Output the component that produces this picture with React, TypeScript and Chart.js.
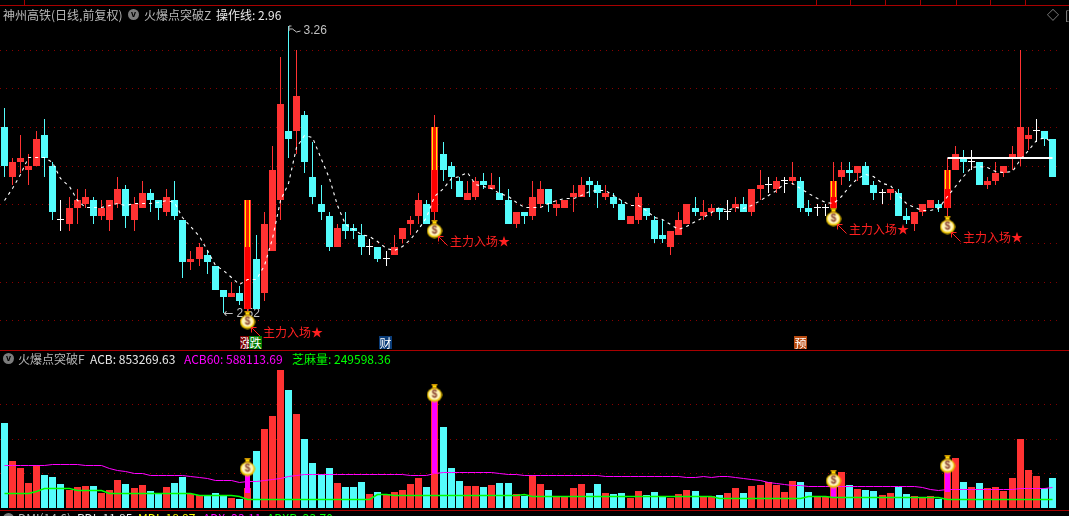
import React, { useEffect, useRef } from "react";
import { Chart, registerables } from "chart.js";

Chart.register(...registerables);

const HIGHS = [3.05,2.92,2.98,2.93,2.99,3.02,2.91,2.81,2.82,2.84,2.84,2.82,2.81,2.81,2.87,2.85,2.82,2.86,2.84,2.81,2.84,2.86,2.76,2.68,2.70,2.68,2.64,2.58,2.60,2.59,2.81,2.72,2.78,2.95,3.18,3.26,3.20,3.04,2.96,2.85,2.78,2.75,2.78,2.75,2.75,2.71,2.69,2.68,2.72,2.74,2.77,2.83,2.81,3.03,2.96,2.91,2.87,2.86,2.87,2.88,2.88,2.87,2.84,2.78,2.78,2.86,2.86,2.84,2.81,2.81,2.85,2.87,2.87,2.86,2.85,2.83,2.81,2.77,2.83,2.79,2.77,2.76,2.73,2.78,2.80,2.82,2.81,2.80,2.79,2.81,2.82,2.82,2.84,2.89,2.87,2.87,2.87,2.91,2.87,2.81,2.80,2.80,2.91,2.91,2.91,2.90,2.91,2.86,2.84,2.84,2.84,2.79,2.78,2.80,2.81,2.81,2.92,2.95,2.94,2.94,2.91,2.87,2.91,2.90,2.95,3.20,3.00,3.02,2.99,2.97];
const LOWS = [2.87,2.85,2.88,2.85,2.90,2.87,2.76,2.73,2.73,2.75,2.79,2.75,2.76,2.73,2.79,2.74,2.73,2.79,2.78,2.76,2.77,2.76,2.61,2.63,2.64,2.62,2.58,2.52,2.56,2.54,2.52,2.53,2.55,2.68,2.76,2.92,2.93,2.88,2.80,2.76,2.68,2.69,2.71,2.71,2.67,2.67,2.65,2.64,2.67,2.70,2.72,2.75,2.75,2.76,2.86,2.84,2.82,2.81,2.81,2.84,2.84,2.81,2.75,2.74,2.75,2.76,2.79,2.78,2.77,2.79,2.78,2.82,2.82,2.79,2.81,2.79,2.76,2.75,2.75,2.76,2.70,2.70,2.67,2.72,2.75,2.77,2.76,2.77,2.76,2.76,2.78,2.78,2.77,2.81,2.83,2.83,2.83,2.85,2.78,2.77,2.77,2.77,2.78,2.85,2.86,2.86,2.85,2.81,2.80,2.81,2.77,2.75,2.73,2.77,2.79,2.78,2.77,2.89,2.88,2.89,2.85,2.84,2.85,2.87,2.89,2.90,2.94,2.96,2.95,2.87];
const OPENS = [3.00,2.87,2.91,2.89,2.90,2.98,2.90,2.76,2.75,2.79,2.80,2.81,2.77,2.76,2.80,2.84,2.76,2.79,2.83,2.81,2.78,2.81,2.76,2.65,2.66,2.67,2.64,2.58,2.56,2.57,2.53,2.66,2.57,2.68,2.81,2.99,2.99,3.03,2.87,2.80,2.77,2.69,2.75,2.74,2.72,2.69,2.69,2.66,2.67,2.71,2.75,2.77,2.80,2.78,2.93,2.90,2.86,2.81,2.82,2.86,2.84,2.83,2.81,2.75,2.78,2.77,2.80,2.84,2.79,2.79,2.82,2.82,2.86,2.85,2.82,2.82,2.80,2.75,2.76,2.79,2.76,2.72,2.69,2.72,2.75,2.79,2.77,2.78,2.79,2.78,2.79,2.80,2.78,2.84,2.85,2.84,2.86,2.86,2.86,2.79,2.79,2.79,2.79,2.87,2.89,2.88,2.90,2.85,2.83,2.83,2.83,2.77,2.75,2.78,2.79,2.80,2.79,2.89,2.92,2.91,2.91,2.85,2.86,2.88,2.92,2.92,2.97,2.99,2.99,2.97];
const CLOSES = [2.90,2.91,2.92,2.90,2.97,2.92,2.78,2.76,2.79,2.81,2.82,2.77,2.79,2.81,2.84,2.77,2.80,2.83,2.81,2.79,2.82,2.77,2.65,2.66,2.69,2.65,2.58,2.56,2.57,2.55,2.81,2.53,2.75,2.89,3.06,2.97,3.08,2.91,2.82,2.78,2.69,2.74,2.73,2.73,2.69,2.69,2.66,2.66,2.69,2.74,2.76,2.81,2.75,3.00,2.89,2.87,2.82,2.83,2.86,2.85,2.85,2.81,2.75,2.78,2.77,2.82,2.84,2.80,2.80,2.81,2.83,2.85,2.85,2.83,2.83,2.80,2.76,2.77,2.82,2.77,2.71,2.71,2.73,2.76,2.80,2.78,2.78,2.79,2.78,2.78,2.80,2.78,2.84,2.85,2.85,2.86,2.86,2.87,2.79,2.78,2.79,2.79,2.86,2.89,2.88,2.90,2.85,2.83,2.83,2.84,2.77,2.76,2.78,2.80,2.81,2.79,2.89,2.93,2.91,2.91,2.85,2.86,2.88,2.90,2.93,3.00,2.98,2.99,2.97,2.87];
const VOLUMES = [246.5,136.3,116,72.5,124.7,95.7,89.9,69.6,52.2,60.9,63.8,63.8,43.5,52.2,81.2,69.6,58,66.7,49.3,43.5,60.9,72.5,89.9,40.6,37.7,37.7,43.5,34.8,29,26.1,58,165.3,229.1,266.8,400.2,342.2,272.6,200.1,130.5,98.6,116,72.5,60.9,60.9,75.4,40.6,46.4,40.6,46.4,52.2,69.6,87,60.9,313.2,234.9,116,78.3,63.8,63.8,60.9,66.7,72.5,72.5,40.6,34.8,95.7,69.6,52.2,34.8,34.8,58,69.6,43.5,69.6,43.5,40.6,43.5,29,49.3,37.7,46.4,31.9,29,40.6,52.2,49.3,34.8,34.8,37.7,43.5,58,43.5,63.8,66.7,75.4,66.7,46.4,78.3,75.4,46.4,31.9,31.9,60.9,104.4,66.7,55.1,52.2,49.3,37.7,43.5,60.9,40.6,34.8,31.9,34.8,26.1,110.2,145,75.4,60.9,72.5,58,60.9,49.3,87,200.1,110.2,92.8,58,85.3];
const OPERATE_LINE = [2.809,2.842,2.876,2.920,2.922,2.922,2.907,2.868,2.845,2.811,2.793,2.793,2.793,2.798,2.803,2.796,2.803,2.803,2.803,2.806,2.811,2.806,2.767,2.742,2.716,2.682,2.641,2.630,2.610,2.592,2.605,2.605,2.643,2.713,2.811,2.855,2.948,2.979,2.972,2.915,2.868,2.798,2.747,2.734,2.721,2.716,2.703,2.687,2.680,2.690,2.708,2.734,2.767,2.819,2.842,2.868,2.871,2.881,2.850,2.845,2.842,2.829,2.819,2.806,2.791,2.791,2.793,2.803,2.811,2.814,2.816,2.822,2.832,2.835,2.837,2.824,2.811,2.798,2.796,2.785,2.765,2.760,2.747,2.736,2.742,2.755,2.767,2.780,2.791,2.785,2.791,2.788,2.798,2.811,2.824,2.837,2.853,2.855,2.842,2.829,2.816,2.806,2.803,2.819,2.845,2.868,2.876,2.871,2.855,2.848,2.824,2.803,2.793,2.785,2.785,2.788,2.819,2.845,2.871,2.894,2.897,2.894,2.884,2.881,2.884,2.915,2.940,2.966,2.972,2.960];
const ACB60 = [121.8,121.8,121.8,121.8,121.8,121.8,126.7,126.7,126.7,126.7,123.8,123.8,123.8,113.1,107.3,104.4,100.6,98.6,94.8,93.7,93.7,93.7,93.7,91.9,89,86.1,80.3,80.3,78.3,74.5,77.4,77.4,80.3,83.2,86.1,91.9,94.8,97.7,97.7,97.7,97.7,97.7,97.7,97.7,97.7,97.7,97.7,97.7,97.7,97.7,94.8,94.8,94.8,100.6,103.5,103.5,103.5,103.5,103.5,103.5,103.5,100.6,97.7,97.7,94.8,94.8,94.8,94.8,94.8,94.8,94.8,94.8,94.8,94.8,91.9,91.9,91.9,91.9,91.9,91.9,91.9,91.9,91.9,91.9,89,89,91.9,89,91.9,91.9,89,86.1,83.2,80.3,74.5,71.6,68.7,65.8,65.8,62.9,62.9,62.9,62.9,62.9,62.9,62.9,62.9,62.9,62.9,62.9,62.9,62.9,62.9,58.9,54.2,51.3,54.2,54.2,54.2,54.2,54.2,54.2,54.2,54.2,54.2,57.1,57.1,57.1,57.1,58.8];
const SESAME = [42.6,42.6,42.6,42.6,48.4,57.1,57.1,57.1,57.1,51.3,51.3,51.3,51.3,42.6,42.6,42.6,42.6,42.6,42.6,42.6,42.6,42.6,42.6,42.6,36.8,36.8,36.8,36.8,36.8,32.8,25.2,25.2,25.2,25.2,25.2,25.2,25.2,25.2,25.2,25.2,25.2,25.2,25.2,25.2,25.2,25.2,39.7,39.7,36.8,36.8,36.8,36.8,36.8,36.8,36.8,36.8,36.8,36.8,36.8,36.8,36.8,36.8,36.8,36.8,39.7,33.9,33.9,33.9,33.9,33.9,33.9,33.9,33.9,33.9,33.9,33.9,33.9,33.9,33.9,33.9,33.9,33.9,33.9,33.9,33.9,33.9,33.9,33.9,28.1,28.1,28.1,28.1,28.1,28.1,28.1,28.1,28.1,28.1,28.1,33.9,33.9,33.9,31,31,31,31,31,31,31,31,31,31,31,31,31,31,25,25,25,25,25,25,25,25,25,25,25,25,25,25];

const SIGNAL_INDEX = [30, 53, 102, 116];
const SIGNAL_STRIPE_END = [2.69, 2.89, 2.82, 2.84];
const SIGNAL_PRICE_BAG = [2.5, 2.736, 2.767, 2.747];
const SIGNAL_LABEL_PRICE = [2.47, 2.705, 2.736, 2.716];
const SIGNAL_VOLUME_TOP = [104.4, 313.2, 60.9, 110.2];
const SIGNAL_VOLUME_END = [43.5, 101.5, 31.9, 46.4];
const SIGNAL_VOLUME_BAG = [119, 333.5, 84, 127.6];
const SUPPORT_FROM = 116;
const SUPPORT_PRICE = 2.92;
const PEAK_INDEX = 35;
const PEAK_TEXT = "3.26";
const LOW_INDEX = 27;
const LOW_TEXT = "2.52";
const SIGNAL_TEXT = "主力入场★";
const PRICE_GRID = [3.2, 3.1, 3.0, 2.9, 2.8, 2.7, 2.6, 2.5];
const VOLUME_GRID = [100, 200, 300];
const CATEGORIES = HIGHS.map((_, i) => String(i + 1));

const RED = "#ff3232";
const CYAN = "#54fcfc";
const WHITE = "#ffffff";
const GRID_RED = "#8a0000";
const CJK = '"Noto Sans CJK SC","Liberation Sans",sans-serif';
const P_MIN = 1.9949, P_MAX = 3.3279, V_MIN = -23.8, V_MAX = 1472.6;

function sparse<T>(idx: number[], vals: T[]): (T | null)[] {
  return CATEGORIES.map((_, i) => {
    const k = idx.indexOf(i);
    return k < 0 ? null : vals[k];
  });
}

function snapper(fn: (v: number) => number) {
  return (scale: any) => {
    if (scale.__snap) return;
    scale.__snap = true;
    const orig = scale.getPixelForValue.bind(scale);
    scale.getPixelForValue = (...a: any[]) => fn(orig(...a));
  };
}

function makeBag() {
  const c = document.createElement("canvas");
  c.width = 16;
  c.height = 19;
  const g = c.getContext("2d")!;
  g.fillStyle = "#c89000";
  g.fillRect(5, 0, 6, 2);
  g.fillStyle = "#ffd800";
  g.fillRect(6, 2, 4, 2);
  g.fillStyle = "#8a4a10";
  g.fillRect(5, 4, 6, 1);
  g.beginPath();
  g.ellipse(8, 11.5, 7.5, 7, 0, 0, Math.PI * 2);
  g.fillStyle = "#e8c000";
  g.fill();
  g.beginPath();
  g.ellipse(8, 11, 6, 5.6, 0, 0, Math.PI * 2);
  g.fillStyle = "#fff4b8";
  g.fill();
  g.fillStyle = "#8a4030";
  g.font = "bold 10px 'Liberation Sans'";
  g.textAlign = "center";
  g.textBaseline = "middle";
  g.fillText("$", 8, 11.5);
  return c;
}

const framePlugin = {
  id: "frame",
  beforeDraw(chart: any) {
    const { ctx, width, height } = chart;
    ctx.save();
    ctx.fillStyle = "#000";
    ctx.fillRect(0, 0, width, height);
    ctx.fillStyle = "#a80000";
    ctx.fillRect(0, 5, width, 1);
    ctx.fillRect(0, 350, width, 1);
    ctx.fillRect(0, 510, width, 1);
    [24, 816, 850, 885, 920, 956, 990, 1025].forEach((x) => ctx.fillRect(x, 0, 1, 5));
    ctx.restore();
  },
  beforeDatasetsDraw(chart: any) {
    const { ctx, scales } = chart;
    const x = scales.x.getPixelForValue(LOW_INDEX);
    const y = scales.y.getPixelForValue(LOWS[LOW_INDEX]);
    ctx.save();
    ctx.fillStyle = "#c0c0c0";
    ctx.textBaseline = "middle";
    ctx.font = "12px 'DejaVu Sans'";
    ctx.fillText("←", x, y + 1);
    ctx.font = "12px 'Liberation Sans'";
    ctx.fillText(LOW_TEXT, x + 13, y + 1);
    ctx.restore();
  },
  afterDatasetsDraw(chart: any) {
    const { ctx, scales } = chart;
    ctx.save();
    ctx.textBaseline = "middle";
    const px = scales.x.getPixelForValue(PEAK_INDEX);
    const py = scales.y.getPixelForValue(HIGHS[PEAK_INDEX]);
    ctx.strokeStyle = "#c0c0c0";
    ctx.lineWidth = 1;
    ctx.beginPath();
    ctx.moveTo(px + 0.5, py + 5);
    ctx.lineTo(px + 0.5, py);
    ctx.lineTo(px + 3, py);
    ctx.moveTo(px + 1, py + 3);
    ctx.lineTo(px + 4, py + 3);
    ctx.lineTo(px + 8, py + 6);
    ctx.lineTo(px + 12, py + 5);
    ctx.stroke();
    ctx.fillStyle = "#c0c0c0";
    ctx.font = "12px 'Liberation Sans'";
    ctx.fillText(PEAK_TEXT, px + 15, py + 5);
    SIGNAL_INDEX.forEach((idx, k) => {
      const x = scales.x.getPixelForValue(idx);
      const y = scales.y.getPixelForValue(SIGNAL_LABEL_PRICE[k]);
      ctx.strokeStyle = "#ff2020";
      ctx.beginPath();
      ctx.moveTo(x + 13, y + 4.5);
      ctx.lineTo(x + 4, y - 4.5);
      ctx.moveTo(x + 9, y - 4.5);
      ctx.lineTo(x + 4, y - 4.5);
      ctx.lineTo(x + 4, y + 0.5);
      ctx.stroke();
      ctx.fillStyle = "#ff2020";
      ctx.font = '12px "Noto Sans CJK SC"';
      ctx.fillText(SIGNAL_TEXT, x + 15.5, y);
    });
    ctx.restore();
  },
};

const abs = (left: number, top: number, color: string, extra: any = {}) => ({
  position: "absolute" as const,
  left,
  top,
  color,
  font: `12px/14px ${CJK}`,
  whiteSpace: "pre" as const,
  ...extra,
});

function Dot({ left, top }: { left: number; top: number }) {
  return (
    <div style={{ position: "absolute", left, top, width: 11, height: 11, borderRadius: 6, background: "#7c7c7c", color: "#000", font: "bold 9px/10px 'Liberation Sans'", textAlign: "center" }}>v</div>
  );
}

export default function App() {
  const ref = useRef<HTMLCanvasElement | null>(null);

  useEffect(() => {
    const candleColor = CATEGORIES.map((_, i) => (CLOSES[i] > OPENS[i] ? RED : CLOSES[i] < OPENS[i] ? CYAN : WHITE));
    const bodies = CATEGORIES.map((_, i) => (OPENS[i] === CLOSES[i] ? [OPENS[i], OPENS[i] + 0.0026] : [OPENS[i], CLOSES[i]]));
    const wicks = CATEGORIES.map((_, i) => [LOWS[i], HIGHS[i]]);
    const volColor = CATEGORIES.map((_, i) => {
      if (CLOSES[i] > OPENS[i]) return RED;
      if (CLOSES[i] < OPENS[i]) return CYAN;
      return i > 0 && CLOSES[i] < CLOSES[i - 1] ? CYAN : RED;
    });
    const signalCloses = SIGNAL_INDEX.map((i) => CLOSES[i]);
    const signalOpens = SIGNAL_INDEX.map((i) => OPENS[i]);
    const stripes = sparse(SIGNAL_INDEX, SIGNAL_INDEX.map((_, k) => [SIGNAL_STRIPE_END[k], signalCloses[k]]));
    const lowerBodies = sparse(SIGNAL_INDEX, SIGNAL_INDEX.map((_, k) => [signalOpens[k], SIGNAL_STRIPE_END[k]]));
    const magentaBars = sparse(SIGNAL_INDEX, SIGNAL_INDEX.map((_, k) => [SIGNAL_VOLUME_END[k], SIGNAL_VOLUME_TOP[k]]));
    const barBase = { type: "bar" as const, grouped: false, barPercentage: 1, categoryPercentage: 1, inflateAmount: 0, borderWidth: 0 };
    const lineBase = { type: "line" as const, pointRadius: 0, borderWidth: 1, tension: 0, spanGaps: false, fill: false };
    const bag = makeBag();
    const bagBase = { type: "line" as const, showLine: false, pointStyle: bag as any, pointRadius: 8, spanGaps: false, order: 1 };

    const chart = new Chart(ref.current!, {
      data: {
        labels: CATEGORIES,
        datasets: [
          { ...bagBase, label: "bagPrice", yAxisID: "y", data: sparse(SIGNAL_INDEX, SIGNAL_PRICE_BAG) },
          { ...bagBase, label: "bagVolume", yAxisID: "yv", data: sparse(SIGNAL_INDEX, SIGNAL_VOLUME_BAG) },
          { ...lineBase, label: "操作线", yAxisID: "yL", order: 2, borderColor: WHITE, borderWidth: 1.1, borderDash: [3, 4], data: OPERATE_LINE },
          { ...lineBase, label: "support", yAxisID: "y", order: 2, borderColor: WHITE, borderWidth: 2, data: CATEGORIES.map((_, i) => (i >= SUPPORT_FROM ? SUPPORT_PRICE : null)) },
          { ...lineBase, label: "ACB60", yAxisID: "yvL", order: 2, borderColor: "#ff00ff", borderWidth: 1, data: ACB60 },
          { ...lineBase, label: "芝麻量", yAxisID: "yvL", order: 2, borderColor: "#00ff00", borderWidth: 1.5, data: SESAME },
          { ...barBase, label: "signalVolume", yAxisID: "yv", order: 3, maxBarThickness: 5, backgroundColor: "#ff00ff", data: magentaBars },
          { ...barBase, label: "stripeInner", yAxisID: "y", order: 4, maxBarThickness: 3, backgroundColor: "#ff1a00", data: stripes },
          { ...barBase, label: "stripe", yAxisID: "y", order: 5, maxBarThickness: 5, backgroundColor: "#ffe600", data: stripes },
          { ...barBase, label: "lowerBody", yAxisID: "y", order: 5, maxBarThickness: 5, backgroundColor: "#ff0000", data: lowerBodies },
          { ...barBase, label: "body", yAxisID: "y", order: 6, maxBarThickness: 7, backgroundColor: candleColor, data: bodies },
          { ...barBase, label: "wick", yAxisID: "y", order: 7, maxBarThickness: 1, backgroundColor: candleColor, data: wicks },
          { ...barBase, label: "ACB", yAxisID: "yv", order: 8, maxBarThickness: 7, backgroundColor: volColor, data: VOLUMES },
        ] as any,
      },
      options: {
        responsive: false,
        animation: false,
        events: [],
        layout: { autoPadding: false, padding: { left: 0, right: 12.1, top: 0, bottom: 0 } },
        plugins: { legend: { display: false }, tooltip: { enabled: false }, title: { display: false } },
        scales: {
          x: { type: "category", offset: true, display: false, afterBuildTicks: snapper((v) => Math.floor(v - 0.065) + 0.5) },
          y: {
            type: "linear", min: P_MIN, max: P_MAX, position: "left",
            afterBuildTicks: (s: any) => {
              s.ticks = PRICE_GRID.map((value) => ({ value }));
              snapper((v) => Math.round(v))(s);
            },
            ticks: { display: false },
            grid: { color: GRID_RED, drawTicks: false, lineWidth: 1 },
            border: { display: false, dash: [1, 5] },
          },
          yv: {
            type: "linear", min: V_MIN, max: V_MAX, position: "left",
            afterBuildTicks: (s: any) => {
              s.ticks = VOLUME_GRID.map((value) => ({ value }));
              snapper((v) => Math.round(v))(s);
            },
            ticks: { display: false },
            grid: { color: GRID_RED, drawTicks: false, lineWidth: 1 },
            border: { display: false, dash: [1, 5] },
          },
          yL: { type: "linear", min: P_MIN, max: P_MAX, display: false, afterBuildTicks: snapper((v) => Math.floor(v) + 0.5) },
          yvL: { type: "linear", min: V_MIN, max: V_MAX, display: false, afterBuildTicks: snapper((v) => Math.floor(v) + 0.5) },
        },
      } as any,
      plugins: [framePlugin as any],
    });
    return () => chart.destroy();
  }, []);

  const badge = (left: number, width: number, bg: string, text: string) => (
    <div style={{ position: "absolute", left, top: 336, width, height: 13, background: bg, color: "#fff", font: `12px/13px ${CJK}`, textAlign: "center", overflow: "hidden" }}>{text}</div>
  );

  return (
    <div style={{ position: "fixed", left: 0, top: 0, width: 1069, height: 516, overflow: "hidden", background: "#000" }}>
      <canvas ref={ref} width={1069} height={516} style={{ position: "absolute", left: 0, top: 0, display: "block" }} />

      <span style={abs(3, 8, "#b8b8b8")}>神州高铁(日线,前复权)</span>
      <Dot left={128} top={9} />
      <span style={abs(144, 8, "#b8b8b8")}>火爆点突破Z</span>
      <span style={abs(216, 8, "#e8e8e8")}>操作线: 2.96</span>
      <span style={abs(1047, 8, "#a0a0a0")}>◇</span>
      <span style={abs(1065, 8, "#a0a0a0")}>[</span>

      {badge(240, 9, "#7a0000", "涨")}
      {badge(249, 13, "#007a00", "跌")}
      {badge(379, 13, "#0a3c78", "财")}
      {badge(794, 13, "#b84a10", "预")}

      <Dot left={3} top={353} />
      <span style={abs(18, 352, "#b8b8b8")}>火爆点突破F</span>
      <span style={abs(90, 352, "#e8e8e8")}>ACB: 853269.63</span>
      <span style={abs(184, 352, "#ff00ff")}>ACB60: 588113.69</span>
      <span style={abs(292, 352, "#00ff00")}>芝麻量: 249598.36</span>

      <Dot left={3} top={513} />
      <span style={abs(18, 511, "#b8b8b8")}>DMI(14,6)</span>
      <span style={abs(77, 511, "#e8e8e8")}>PDI: 11.85</span>
      <span style={abs(138, 511, "#ffff00")}>MDI: 18.97</span>
      <span style={abs(203, 511, "#ff00ff")}>ADX: 23.11</span>
      <span style={abs(267, 511, "#00ff00")}>ADXR: 23.70</span>
    </div>
  );
}
